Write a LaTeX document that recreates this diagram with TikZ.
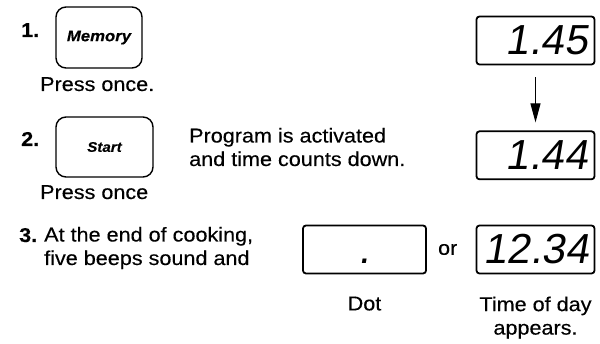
\documentclass[tikz,border=0pt]{standalone}
\usepackage{fontspec}
\setmainfont{Liberation Sans}[FakeStretch=1.08, FakeBold=0.3]
\newfontfamily\lcdfont{Liberation Sans}[FakeSlant=0.17]
\usetikzlibrary{arrows.meta,positioning}

\begin{document}
\begin{tikzpicture}[x=1pt, y=-1pt, inner sep=0pt,
  font=\fontsize{20}{23.5}\selectfont, node distance=22pt and 11pt,
  key/.style={draw, line width=1.4pt, rounded corners=10pt, font=\fontsize{15.5}{17}\selectfont\bfseries\itshape},
  lcd/.style={draw, line width=1.8pt, rounded corners=3pt, minimum width=118pt, minimum height=48pt, text width=104pt, align=right, font=\lcdfont\fontsize{42}{42}\selectfont},
  txt/.style={anchor=base west, align=left}, num/.style={txt, font=\fontsize{20}{23.5}\selectfont\bfseries},
  arr/.style={-{Triangle[length=19pt,width=10pt]}, line width=1.1pt}]
  \useasboundingbox (0,0) rectangle (600,344);
  \node[key, minimum width=86pt, minimum height=61pt] (memory) at (99,37.5) {Memory};
  \node[num] (one) at (21,37) {1.};
  \node[txt] (press1) at (40,91) {Press once.};
  \node[key, minimum width=97pt, minimum height=60pt, font=\fontsize{14}{16}\selectfont\bfseries\itshape] (start) at (104.5,147) {Start};
  \node[num] (two) at (21,146) {2.};
  \node[txt] (press2) at (40,199) {Press once};
  \node[txt] (prog) at (189,166) {Program is activated\\and time counts down.};
  \node[lcd] (lcdA) at (535.5,40.5) {1.45};
  \node[lcd, below=65pt of lcdA] (lcdB) {1.44};
  \draw[arr, shorten <=12pt, shorten >=8pt] (lcdA) -- (lcdB);
  \node[num] (three) at (19,242) {3.};
  \node[txt] (cook) at (44,265) {At the end of cooking,\\five beeps sound and};
  \node[lcd, minimum width=123pt, align=center] (dotbox) at (364.5,249.5) {\vphantom{1}.};
  \node[lcd] (lcdC) at (535.5,249.5) {12.34};
  \node[right=of dotbox] (or) {or};
  \node[below=of dotbox] (dot) {Dot};
  \node[below=of lcdC, align=center] (tod) {Time of day\\appears.};
\end{tikzpicture}
\end{document}
